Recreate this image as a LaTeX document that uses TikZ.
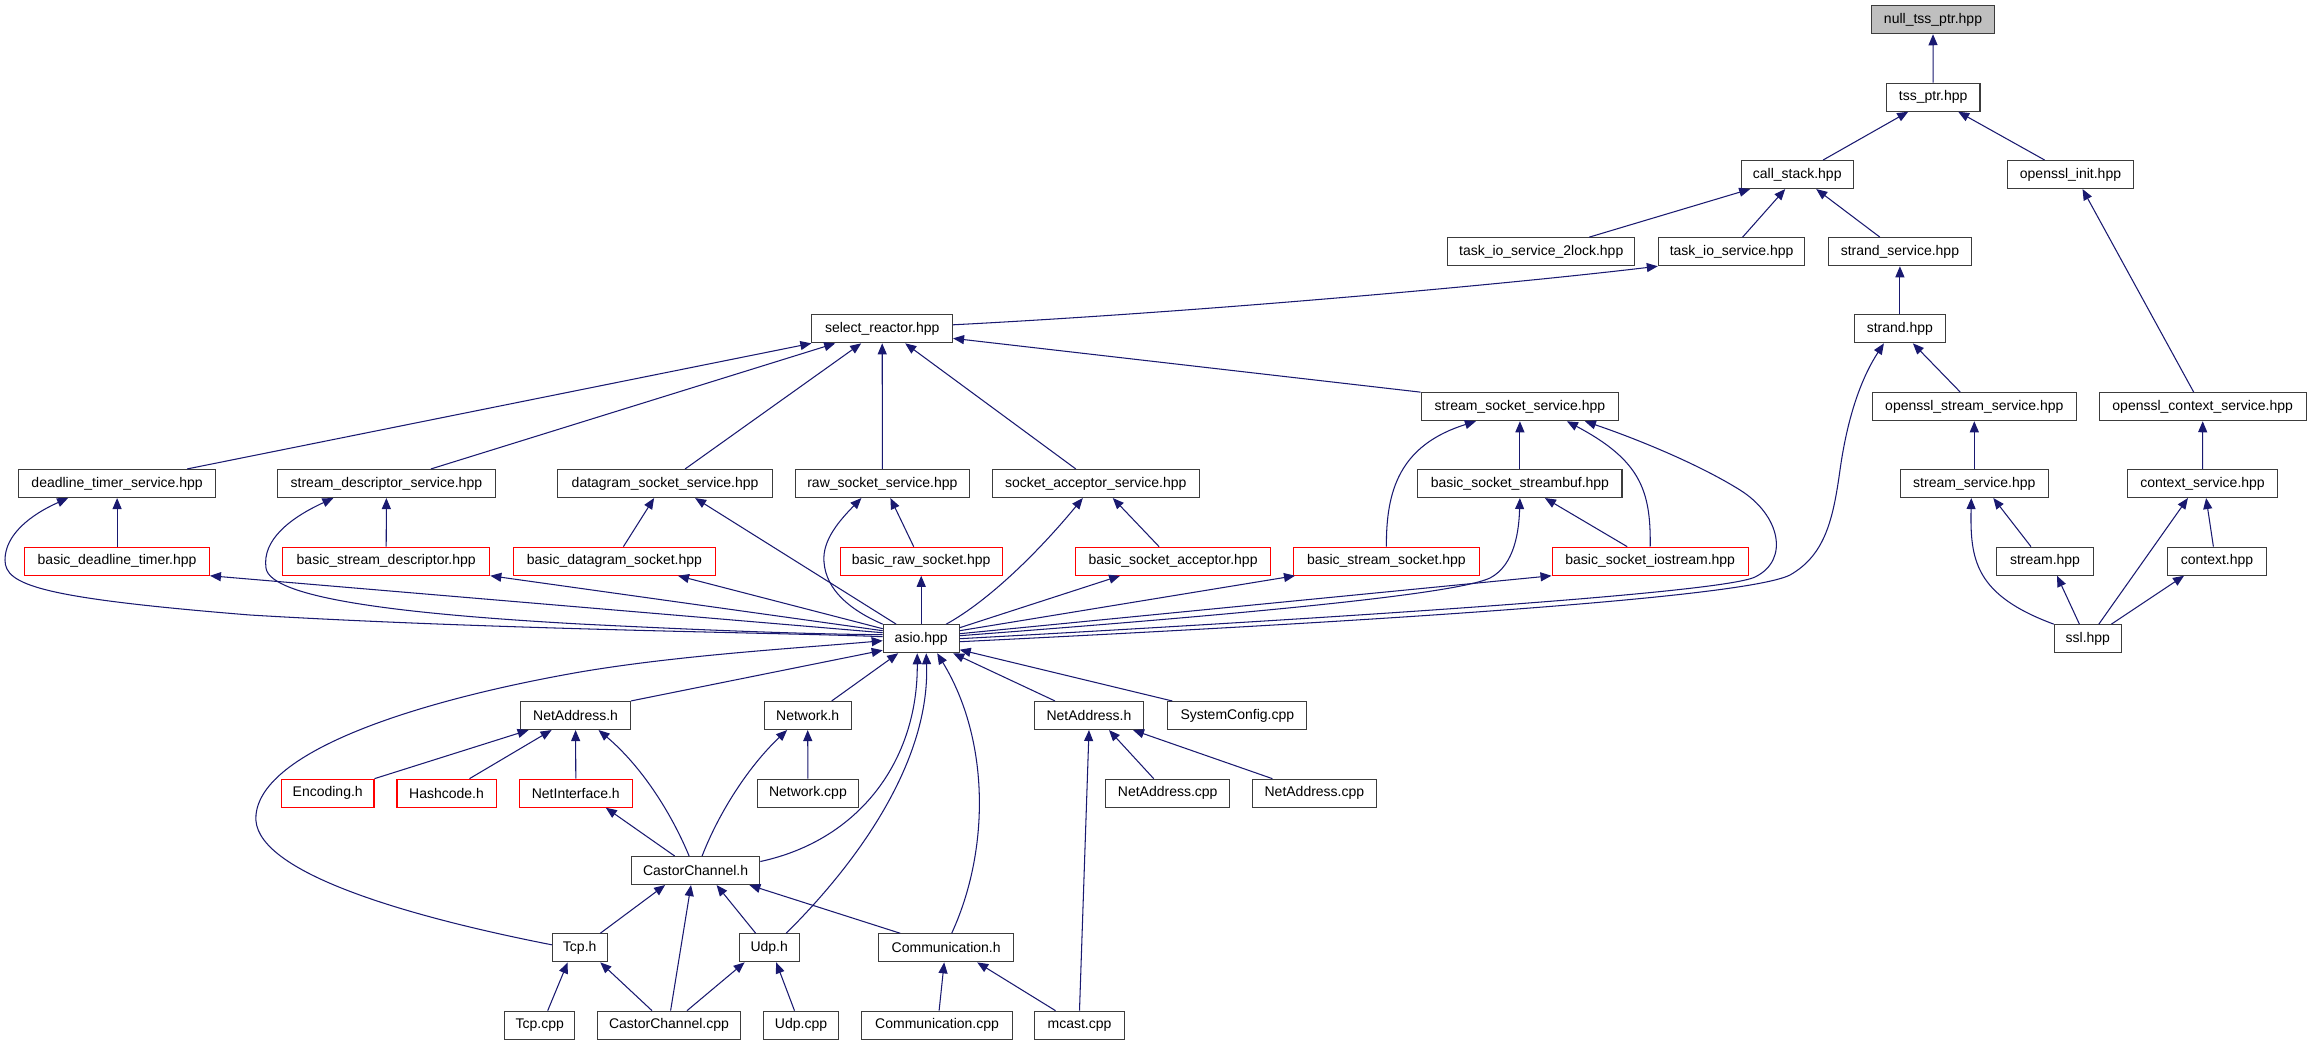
\documentclass[tikz,border=0pt]{standalone}
\usepackage{fontspec}
\setmainfont{Liberation Sans}
\usetikzlibrary{arrows.meta}
\definecolor{edgec}{RGB}{25,25,112}
\definecolor{boxc}{RGB}{60,60,60}
\definecolor{grayfill}{RGB}{191,191,191}
\begin{document}
\begin{tikzpicture}[x=1pt,y=-1pt,
  nd/.style={draw=boxc, line width=1.1pt, rectangle, minimum height=28pt, inner sep=0pt, fill=white, font=\fontsize{14}{16}\selectfont},
  rd/.style={nd, draw=red},
  gd/.style={nd, fill=grayfill},
  edge/.style={draw=edgec, line width=1.05pt, {Triangle[length=11pt,width=9pt]}-}]
\fill[white] (0,0) rectangle (2311,1045);
\useasboundingbox (0,0) rectangle (2311,1045);
% nodes
\node[gd, minimum width=122.4] (nts) at (1933,19.7) {null\_tss\_ptr.hpp};
\node[nd, minimum width=93.6] (tss) at (1933.2,97.2) {tss\_ptr.hpp};
\node[nd, minimum width=112.2] (cs) at (1797.2,174.5) {call\_stack.hpp};
\node[nd, minimum width=125.6] (oi) at (2070.5,174.5) {openssl\_init.hpp};
\node[nd, minimum width=186.8] (t2) at (1541.2,251.7) {task\_io\_service\_2lock.hpp};
\node[nd, minimum width=146.5] (tio) at (1731.6,251.7) {task\_io\_service.hpp};
\node[nd, minimum width=142.7] (sts) at (1899.9,251.7) {strand\_service.hpp};
\node[nd, minimum width=140.6] (sr) at (882.2,328.8) {select\_reactor.hpp};
\node[nd, minimum width=91.1] (st) at (1899.9,328.8) {strand.hpp};
\node[nd, minimum width=197.5] (sss) at (1519.9,406.7) {stream\_socket\_service.hpp};
\node[nd, minimum width=204.3] (oss) at (1974.3,406.7) {openssl\_stream\_service.hpp};
\node[nd, minimum width=207.2] (ocs) at (2202.7,406.7) {openssl\_context\_service.hpp};
\node[nd, minimum width=197.2] (dts) at (117.1,483.5) {deadline\_timer\_service.hpp};
\node[nd, minimum width=218.6] (sds) at (386.4,483.5) {stream\_descriptor\_service.hpp};
\node[nd, minimum width=214.6] (dss) at (665.1,483.5) {datagram\_socket\_service.hpp};
\node[nd, minimum width=173.4] (rss) at (882.4,483.5) {raw\_socket\_service.hpp};
\node[nd, minimum width=206.8] (sas) at (1095.8,483.5) {socket\_acceptor\_service.hpp};
\node[nd, minimum width=204.2] (bssb) at (1519.9,483.5) {basic\_socket\_streambuf.hpp};
\node[nd, minimum width=148.2] (ss) at (1974.3,483.5) {stream\_service.hpp};
\node[nd, minimum width=150.8] (cxs) at (2202.5,483.5) {context\_service.hpp};
\node[rd, minimum width=184.6] (bdt) at (117.1,561.2) {basic\_deadline\_timer.hpp};
\node[rd, minimum width=207.2] (bsd) at (386.2,561.2) {basic\_stream\_descriptor.hpp};
\node[rd, minimum width=202.7] (bds) at (614.4,561.2) {basic\_datagram\_socket.hpp};
\node[rd, minimum width=161.7] (brs) at (921.2,561.2) {basic\_raw\_socket.hpp};
\node[rd, minimum width=194.9] (bsa) at (1173.1,561.2) {basic\_socket\_acceptor.hpp};
\node[rd, minimum width=185.7] (bss) at (1386.4,561.2) {basic\_stream\_socket.hpp};
\node[rd, minimum width=196.3] (bsi) at (1650.2,561.2) {basic\_socket\_iostream.hpp};
\node[nd, minimum width=96.5] (stm) at (2045,561.2) {stream.hpp};
\node[nd, minimum width=99.1] (ctx) at (2217,561.2) {context.hpp};
\node[nd, minimum width=75.9] (asio) at (921.2,638.7) {asio.hpp};
\node[nd, minimum width=67] (ssl) at (2087.8,638.7) {ssl.hpp};
\node[nd, minimum width=109.5] (nal) at (575.6,715.5) {NetAddress.h};
\node[nd, minimum width=86.9] (nw) at (807.7,715.5) {Network.h};
\node[nd, minimum width=109.5] (nar) at (1089,715.5) {NetAddress.h};
\node[nd, minimum width=139.1] (sc) at (1237.3,715.5) {SystemConfig.cpp};
\node[rd, minimum width=92.5] (enc) at (327.7,793.2) {Encoding.h};
\node[rd, minimum width=99.1] (hc) at (446.5,793.2) {Hashcode.h};
\node[rd, minimum width=113.5] (ni) at (575.8,793.2) {NetInterface.h};
\node[nd, minimum width=101.3] (nwc) at (807.9,793.2) {Network.cpp};
\node[nd, minimum width=124.3] (nac1) at (1167.7,793.2) {NetAddress.cpp};
\node[nd, minimum width=124.7] (nac2) at (1314.4,793.2) {NetAddress.cpp};
\node[nd, minimum width=128.4] (cch) at (695.6,870.5) {CastorChannel.h};
\node[nd, minimum width=54.7] (tcp) at (579.7,947.8) {Tcp.h};
\node[nd, minimum width=60.3] (udp) at (769.2,947.8) {Udp.h};
\node[nd, minimum width=134.6] (comm) at (946.2,947.8) {Communication.h};
\node[nd, minimum width=143.1] (ccpp) at (669,1025.2) {CastorChannel.cpp};
\node[nd, minimum width=69.6] (tcpc) at (539.7,1025.2) {Tcp.cpp};
\node[nd, minimum width=75.1] (udpc) at (801,1025.2) {Udp.cpp};
\node[nd, minimum width=150.5] (commc) at (937.1,1025.2) {Communication.cpp};
\node[nd, minimum width=89.9] (mc) at (1079.5,1025.2) {mcast.cpp};
% edges (arrow at the included file)
\draw[edge] (nts.south) -- (tss.north);
\draw[edge] ([xshift=-25pt]tss.south) -- ([xshift=26pt]cs.north);
\draw[edge] ([xshift=25pt]tss.south) -- ([xshift=-26pt]oi.north);
\draw[edge] ([xshift=-47pt]cs.south) -- ([xshift=48pt]t2.north);
\draw[edge] ([xshift=-12pt]cs.south) -- ([xshift=11pt]tio.north);
\draw[edge] ([xshift=19pt]cs.south) -- ([xshift=-20pt]sts.north);
\draw[edge] (tio.south west) .. controls (1500,285) and (1200,312) .. ([yshift=4pt]sr.east);
\draw[edge] (sts.south) -- (st.north);
\draw[edge] ([xshift=12pt]oi.south) -- ([xshift=-9pt]ocs.north);
\draw[edge] (sr.south west) -- ([xshift=70pt]dts.north);
\draw[edge] ([xshift=-47pt]sr.south) -- ([xshift=44.5pt]sds.north);
\draw[edge] ([xshift=-21pt]sr.south) -- ([xshift=20pt]dss.north);
\draw[edge] (sr.south) -- (rss.north);
\draw[edge] ([xshift=23pt]sr.south) -- ([xshift=-20pt]sas.north);
\draw[edge] ([yshift=5pt]sr.south east) -- (sss.north west);
\draw[edge] ([xshift=13pt]st.south) -- ([xshift=-14pt]oss.north);
\draw[edge] ([xshift=-16pt]st.south) .. controls (1860,380) and (1847,420) .. (1840,470)
   .. controls (1833,520) and (1825,555) .. (1790,575)
   .. controls (1740,600) and (1300,625) .. ([yshift=-3pt]asio.east);
\draw[edge] (oss.south) -- (ss.north);
\draw[edge] (ocs.south) -- (cxs.north);
\draw[edge] (dts.south) -- (bdt.north);
\draw[edge] ([xshift=-49pt]dts.south) .. controls (30,515) and (5,535) .. (5,560)
   .. controls (5,585) and (40,598) .. (250,615)
   .. controls (500,630) and (800,633) .. ([yshift=2pt]asio.west);
\draw[edge] (sds.south) -- (bsd.north);
\draw[edge] ([xshift=-53pt]sds.south) .. controls (290,518) and (262,540) .. (266,568)
   .. controls (270,598) and (400,614) .. (580,624)
   .. controls (700,630) and (800,634) .. ([yshift=4pt]asio.west);
\draw[edge] ([xshift=-11pt]dss.south) -- ([xshift=9pt]bds.north);
\draw[edge] ([xshift=30pt]dss.south) -- ([xshift=-25pt]asio.north);
\draw[edge] ([xshift=8pt]rss.south) -- ([xshift=-7.5pt]brs.north);
\draw[edge] ([xshift=-21pt]rss.south) .. controls (840,520) and (822,540) .. (824,562)
   .. controls (826,590) and (850,610) .. (asio.north west);
\draw[edge] ([xshift=17pt]sas.south) -- ([xshift=-14pt]bsa.north);
\draw[edge] ([xshift=-13pt]sas.south) .. controls (1040,550) and (990,600) .. ([xshift=25pt]asio.north);
\draw[edge] ([xshift=-44pt]sss.south) .. controls (1400,445) and (1386,490) .. (bss.north);
\draw[edge] (sss.south) -- (bssb.north);
\draw[edge] ([xshift=47pt]sss.south) .. controls (1640,460) and (1651,490) .. (bsi.north);
\draw[edge] ([xshift=65pt]sss.south) .. controls (1640,440) and (1700,465) .. (1740,490)
   .. controls (1780,515) and (1790,560) .. (1755,577)
   .. controls (1720,594) and (1300,620) .. (asio.east);
\draw[edge] ([xshift=25pt]bssb.south) -- ([xshift=-23pt]bsi.north);
\draw[edge] (bssb.south) .. controls (1519,530) and (1515,565) .. (1490,578)
   .. controls (1460,592) and (1300,610) .. ([yshift=3pt]asio.east);
\draw[edge] ([xshift=19pt]ss.south) -- ([xshift=-14pt]stm.north);
\draw[edge] ([xshift=-3pt]ss.south) .. controls (1970,560) and (1975,595) .. (ssl.north west);
\draw[edge] ([xshift=3.6pt]cxs.south) -- ([xshift=-3.6pt]ctx.north);
\draw[edge] ([xshift=-14.6pt]cxs.south) -- ([xshift=11pt]ssl.north);
\draw[edge] ([xshift=12pt]stm.south) -- ([xshift=-8.4pt]ssl.north);
\draw[edge] ([xshift=-33pt]ctx.south) -- ([xshift=23.6pt]ssl.north);
\draw[edge] (bdt.south east) -- ([yshift=6pt]asio.west);
\draw[edge] (bsd.south east) -- ([yshift=8pt]asio.west);
\draw[edge] ([xshift=63.6pt]bds.south) -- ([yshift=10pt]asio.west);
\draw[edge] (brs.south) -- (asio.north);
\draw[edge] ([xshift=-53pt]bsa.south) -- ([yshift=11pt]asio.east);
\draw[edge] ([xshift=2pt]bss.south west) -- ([yshift=8pt]asio.east);
\draw[edge] (bsi.south west) -- ([yshift=5pt]asio.east);
\draw[edge] ([yshift=3pt]asio.south west) -- (nal.north east);
\draw[edge] ([xshift=-23pt]asio.south) -- ([xshift=24pt]nw.north);
\draw[edge] ([xshift=32pt]asio.south) -- ([xshift=-34pt]nar.north);
\draw[edge] ([yshift=-11pt]asio.east) -- ([xshift=5pt]sc.north west);
\draw[edge] ([yshift=-2pt]asio.west) .. controls (800,648) and (680,655) .. (580,672)
   .. controls (420,700) and (262,750) .. (256,815)
   .. controls (250,870) and (400,915) .. ([yshift=3pt]tcp.west);
\draw[edge] ([xshift=-4pt]asio.south) .. controls (918,760) and (860,840) .. ([yshift=9pt]cch.east);
\draw[edge] ([xshift=5pt]asio.south) .. controls (930,760) and (860,860) .. ([xshift=17pt]udp.north);
\draw[edge] ([xshift=16pt]asio.south) .. controls (990,740) and (990,850) .. ([xshift=5.5pt]comm.north);
\draw[edge] ([xshift=-47pt]nal.south) -- (enc.north east);
\draw[edge] ([xshift=-24pt]nal.south) -- ([xshift=23pt]hc.north);
\draw[edge] (nal.south) -- (ni.north);
\draw[edge] ([xshift=23pt]nal.south) .. controls (640,765) and (670,810) .. ([xshift=-6.5pt]cch.north);
\draw[edge] (nw.south) -- (nwc.north);
\draw[edge] ([xshift=-20.6pt]nw.south) .. controls (750,765) and (720,810) .. ([xshift=6.5pt]cch.north);
\draw[edge] ([xshift=20pt]nar.south) -- ([xshift=-14pt]nac1.north);
\draw[edge] ([xshift=44pt]nar.south) -- ([xshift=-42pt]nac2.north);
\draw[edge] (nar.south) -- (mc.north);
\draw[edge] ([xshift=30pt]ni.south) -- ([xshift=-21pt]cch.north);
\draw[edge] ([xshift=-30.5pt]cch.south) -- ([xshift=20.6pt]tcp.north);
\draw[edge] ([xshift=-4.6pt]cch.south) -- ([xshift=1.6pt]ccpp.north);
\draw[edge] ([xshift=21pt]cch.south) -- ([xshift=-13.5pt]udp.north);
\draw[edge] ([xshift=-11pt]cch.south east) -- ([xshift=-46pt]comm.north);
\draw[edge] ([xshift=-12pt]tcp.south) -- ([xshift=8pt]tcpc.north);
\draw[edge] ([xshift=20.6pt]tcp.south) -- ([xshift=-17pt]ccpp.north);
\draw[edge] ([xshift=-24.6pt]udp.south) -- ([xshift=18pt]ccpp.north);
\draw[edge] ([xshift=7pt]udp.south) -- ([xshift=-6.5pt]udpc.north);
\draw[edge] ([xshift=-2pt]comm.south) -- ([xshift=2pt]commc.north);
\draw[edge] ([xshift=31pt]comm.south) -- ([xshift=-24pt]mc.north);
\end{tikzpicture}
\end{document}
